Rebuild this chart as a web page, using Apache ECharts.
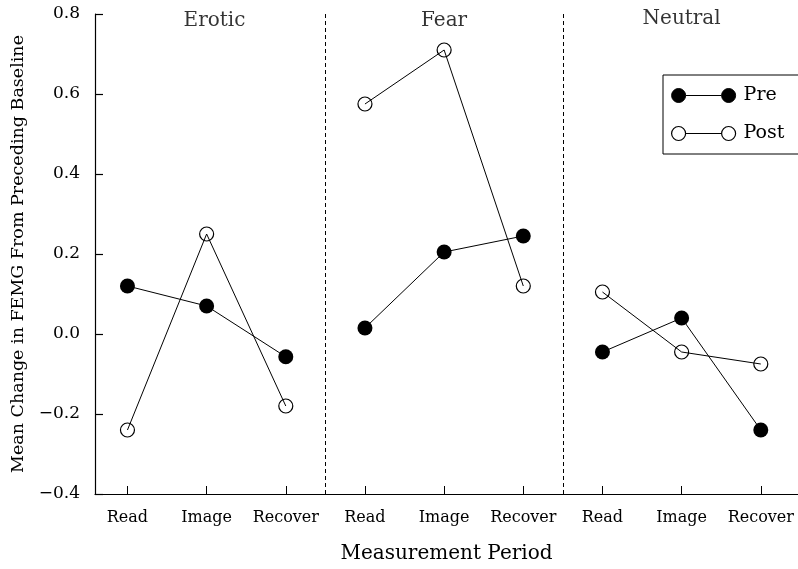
<!DOCTYPE html>
<html>
<head>
<meta charset="utf-8">
<script src="https://cdn.jsdelivr.net/npm/echarts@6/dist/echarts.min.js"></script>
<style>
  html, body { margin: 0; padding: 0; background: #fff; }
  #main { width: 798px; height: 569px; }
</style>
</head>
<body>
<div id="main"></div>
<script>
// periods along the x axis, three per condition
var periods = ['Read', 'Image', 'Recover', 'Read', 'Image', 'Recover', 'Read', 'Image', 'Recover'];
var conditions = ['Erotic', 'Fear', 'Neutral'];
var yTicks = [-0.4, -0.2, 0.0, 0.2, 0.4, 0.6, 0.8];

// values per condition (Read, Image, Recover)
var preErotic = [0.12, 0.07, -0.057];
var preFear = [0.015, 0.205, 0.245];
var preNeutral = [-0.045, 0.04, -0.24];
var postErotic = [-0.24, 0.25, -0.18];
var postFear = [0.575, 0.71, 0.12];
var postNeutral = [0.105, -0.045, -0.075];

var FONT = 'DejaVu Serif';

// legend icon: circle - line - circle
var pairIcon = 'path://M0,7a7,7 0 1,0 14,0a7,7 0 1,0 -14,0zM50,7a7,7 0 1,0 14,0a7,7 0 1,0 -14,0zM14,7L50,7';

function toPoints(vals, group) {
  return vals.map(function (v, i) {
    return [group * 3 + i + 1, v];
  });
}

var chart = echarts.init(document.getElementById('main'));

var series = [];
var preSets = [preErotic, preFear, preNeutral];
var postSets = [postErotic, postFear, postNeutral];

for (var g = 0; g < 3; g++) {
  series.push({
    name: 'Post',
    type: 'line',
    data: toPoints(postSets[g], g),
    symbol: 'circle',
    symbolSize: 14,
    lineStyle: { color: '#000', width: 1 },
    itemStyle: { color: 'rgba(255,255,255,0)', borderColor: '#000', borderWidth: 1.2 },
    z: 3,
    animation: false
  });
  series.push({
    name: 'Pre',
    type: 'line',
    data: toPoints(preSets[g], g),
    symbol: 'circle',
    symbolSize: 15,
    lineStyle: { color: '#000', width: 1 },
    itemStyle: { color: '#000', borderColor: '#000', borderWidth: 0 },
    z: 4,
    animation: false
  });
}

// condition titles and separators
series.push({
  name: 'titles',
  type: 'scatter',
  symbolSize: 0,
  silent: true,
  animation: false,
  data: [[2.1, 0.782], [5, 0.782], [8, 0.788]],
  label: {
    show: true,
    position: 'inside',
    color: '#000',
    fontFamily: FONT,
    fontSize: 20,
    formatter: function (p) { return conditions[p.dataIndex]; }
  },
  markLine: {
    silent: true,
    symbol: 'none',
    animation: false,
    label: { show: false },
    lineStyle: { color: '#000', type: [4, 3], width: 1 },
    data: [{ xAxis: 3.5 }, { xAxis: 6.5 }]
  }
});

chart.setOption({
  backgroundColor: '#fff',
  animation: false,
  grid: { left: 95, right: 0, top: 14, bottom: 71, containLabel: false },
  legend: {
    left: 663,
    top: 75,
    orient: 'vertical',
    icon: pairIcon,
    itemWidth: 64,
    itemHeight: 14,
    itemGap: 19,
    padding: [11, 60, 11, 8],
    borderColor: '#000',
    borderWidth: 1,
    textStyle: { fontFamily: FONT, fontSize: 19, color: '#000', padding: [0, 0, 0, 3] },
    data: [
      { name: 'Pre', itemStyle: { color: '#000', borderColor: '#000', borderWidth: 1 } },
      { name: 'Post', itemStyle: { color: '#fff', borderColor: '#000', borderWidth: 1.2 } }
    ]
  },
  xAxis: {
    type: 'value',
    min: 0.59,
    max: 9.47,
    name: 'Measurement Period',
    nameLocation: 'middle',
    nameGap: 50,
    nameTextStyle: { fontFamily: FONT, fontSize: 20, color: '#000' },
    axisLine: { onZero: false, lineStyle: { color: '#000', width: 1.2 } },
    axisTick: {
      inside: true,
      length: 8,
      customValues: [1, 2, 3, 4, 5, 6, 7, 8, 9],
      lineStyle: { color: '#000' }
    },
    axisLabel: {
      customValues: [1, 2, 3, 4, 5, 6, 7, 8, 9],
      margin: 16,
      fontFamily: FONT,
      fontSize: 16,
      color: '#000',
      formatter: function (v) { return periods[Math.round(v) - 1]; }
    },
    splitLine: { show: false }
  },
  yAxis: {
    type: 'value',
    min: yTicks[0],
    max: yTicks[yTicks.length - 1],
    interval: 0.2,
    name: 'Mean Change in FEMG From Preceding Baseline',
    nameLocation: 'middle',
    nameGap: 68,
    nameTextStyle: { fontFamily: FONT, fontSize: 17.5, color: '#000' },
    axisLine: { show: true, lineStyle: { color: '#000', width: 1.2 } },
    axisTick: { show: true, inside: true, length: 8, lineStyle: { color: '#000', width: 1.2 } },
    axisLabel: {
      margin: 15,
      fontFamily: FONT,
      fontSize: 17,
      color: '#000',
      formatter: function (v) { return v.toFixed(1).replace('-', '\u2212'); }
    },
    splitLine: { show: false }
  },
  series: series
});
</script>
</body>
</html>
